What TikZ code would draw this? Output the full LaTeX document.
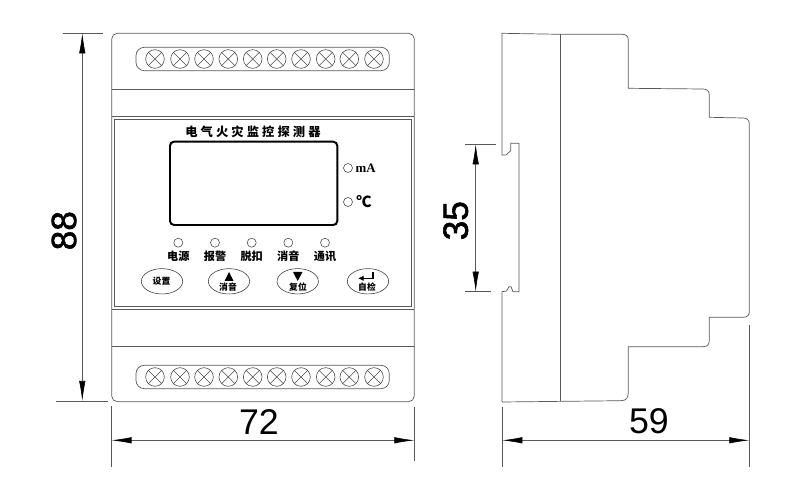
\documentclass[tikz,border=0pt]{standalone}
\usepackage{fontspec}
\setmainfont{Liberation Serif}
\newfontfamily\cjk{Noto Sans CJK SC}
\newfontfamily\cjkwide{Noto Sans CJK SC}[LetterSpace=25]
\newfontfamily\dimfont{Liberation Sans}
\newfontfamily\dimfontb{Liberation Sans}[FakeBold=1.6]
\usetikzlibrary{arrows.meta,positioning,calc,shapes.geometric}

\tikzset{
  outline/.style={draw=black!65, line width=0.6pt},
  dimline/.style={draw=black!65, line width=0.5pt},
  dimarrow/.style={dimline, {Latex[length=0.6cm,width=0.19cm,black]}-{Latex[length=0.6cm,width=0.19cm,black]}},
  dimtext/.style={inner sep=0pt, font=\dimfont\fontsize{30.5}{30.5}\selectfont},
  dimtextb/.style={inner sep=0pt, font=\dimfontb\fontsize{30}{30}\selectfont},
  screw/.style={circle, draw=black!70, line width=0.5pt, minimum size=0.56cm, inner sep=0pt},
  lamp/.style={circle, draw=black!70, line width=0.5pt, minimum size=0.27cm, inner sep=0pt},
  keybtn/.style={ellipse, draw=black!75, line width=0.5pt, minimum width=1.24cm, minimum height=0.76cm, inner sep=0pt},
  lamplabel/.style={inner sep=0pt, font=\cjk\bfseries\fontsize{9.5}{9.5}\selectfont},
  keylabel/.style={inner sep=0pt, font=\cjk\bfseries\fontsize{7.5}{7.5}\selectfont},
}

\begin{document}
\begin{tikzpicture}[x=0.03cm,y=-0.03cm]
\useasboundingbox (0,0) rectangle (800,484);

% front view
\draw[outline, rounded corners=0.17cm] (111.7,33.3) rectangle (414.3,401.7);
\draw[outline] (111.7,89.3) -- (414.3,89.3);
\draw[outline] (111.7,116.7) -- (414.3,116.7);
\draw[outline] (111.7,309.3) -- (414.3,309.3);
\draw[outline] (111.7,346.7) -- (414.3,346.7);
\draw[outline] (114.3,119.3) rectangle (411.7,306.7);

% terminals
\draw[outline, rounded corners=0.25cm] (136,47.3) rectangle (389.3,70.7);
\draw[outline, rounded corners=0.25cm] (136,365.3) rectangle (389.3,388.7);
\foreach \i/\xx in {1/155,2/180,3/204,4/228.3,5/252.7,6/276.7,7/301,8/325.7,9/349.3,10/374} {
  \node[screw] (top\i) at (\xx,59) {};
  \node[screw] (bot\i) at (\xx,377) {};
  \draw[draw=black!70, line width=0.5pt] (top\i.north west) -- (top\i.south east) (top\i.north east) -- (top\i.south west);
  \draw[draw=black!70, line width=0.5pt] (bot\i.north west) -- (bot\i.south east) (bot\i.north east) -- (bot\i.south west);
}

% panel
\node[inner sep=0pt, font=\cjkwide\bfseries\fontsize{10.5}{10.5}\selectfont] (title) at (253,132) {电气火灾监控探测器};
\draw[black, line width=1.7pt, rounded corners=0.12cm] (170,141.7) rectangle (337.3,225);
\node[lamp] (lampma) at (348,168) {};
\node[lamp] (lampc) at (348,202) {};
\node[inner sep=0pt, font=\bfseries\fontsize{11}{11}\selectfont] (ma) at (365.7,168) {mA};
\node[inner sep=0pt, font=\cjk\bfseries\fontsize{13}{13}\selectfont] (degc) at (364,202) {℃};

\foreach \i/\xx/\txt in {1/178.3/电源,2/215/报警,3/251.7/脱扣,4/288.3/消音,5/325/通讯} {
  \node[lamp] (led\i) at (\xx,242.7) {};
  \node[lamplabel] (ledtxt\i) at (\xx,256.7) {\txt};
}

\node[keybtn] (key1) at (162,281.3) {};
\node[keybtn] (key2) at (229,281.3) {};
\node[keybtn] (key3) at (297.7,281.3) {};
\node[keybtn] (key4) at (368,281.3) {};
\node[keylabel] at (161.5,281.5) {设置};
\node[keylabel] at (228,287.5) {消音};
\node[keylabel] at (298,287.5) {复位};
\node[keylabel] at (367,287.5) {自检};
\fill[black] (229,272) -- (233.5,281) -- (224.5,281) -- cycle;
\fill[black] (293,272) -- (302.5,272) -- (297.7,281) -- cycle;
\draw[black, line width=1.1pt, -{Latex[length=0.17cm,width=0.17cm]}] (373,272.5) -- (373,278.3) -- (358,278.3);

% side view
\draw[outline] (502,33.3) -- (560,34.3) -- (622,34.3) .. controls (626,34.3) and (628.3,36) .. (628.3,40)
  -- (628.3,88.3) -- (703,89) .. controls (707,89) and (709.3,91) .. (709.3,95)
  -- (709.3,117.3) -- (743,118) .. controls (747,118) and (749.3,120) .. (749.3,124)
  -- (749.3,311) .. controls (749.3,315) and (748,317.3) .. (743,317.3)
  -- (709.3,317.3) -- (709.3,340) .. controls (709.3,344) and (708,346.7) .. (703,346.7)
  -- (628.3,346.7) -- (628.3,393) .. controls (628.3,398) and (626,400.7) .. (621,400.7)
  -- (502,402) -- (502,291.7) -- (506.5,291) -- (509,286.7) -- (511,286.7) -- (513,291.7) -- (519,291.7)
  -- (519,143.3) -- (510.7,143.3) -- (510.7,150.7) -- (506,155) -- (502,155) -- cycle;
\draw[outline] (560.3,34.3) -- (560.3,401.3);

% dimensions
\coordinate (h1) at (82.3,33.3);
\coordinate (h2) at (82.3,401);
\draw[dimline] (62.7,33.3) -- (102.7,33.3);
\draw[dimline] (56,401) -- (108,401);
\draw[dimarrow] (h1) -- (h2);
\node[dimtextb, rotate=90] (dim88) at (64,230.7) {88};

\coordinate (w1) at (111.5,440.3);
\coordinate (w2) at (414.3,440.3);
\draw[dimline] (111.5,406) -- (111.5,467);
\draw[dimline] (414.3,407) -- (414.3,461);
\draw[dimarrow] (w1) -- (w2);
\node[dimtext] (dim72) at (259,421.7) {72};

\coordinate (d1) at (502.3,440.3);
\coordinate (d2) at (749.3,440.3);
\draw[dimline] (502.3,407) -- (502.3,467);
\draw[dimline] (749.3,325) -- (749.3,467);
\draw[dimarrow] (d1) -- (d2);
\node[dimtext] (dim59) at (649,421.7) {59};

\coordinate (r1) at (475.7,144.3);
\coordinate (r2) at (475.7,291.7);
\draw[dimline] (465,144.3) -- (496,144.3);
\draw[dimline] (465,291.7) -- (490.7,291.7);
\draw[dimarrow] (r1) -- (r2);
\node[dimtextb, rotate=90] (dim35) at (455.7,220.7) {35};
\end{tikzpicture}
\end{document}
